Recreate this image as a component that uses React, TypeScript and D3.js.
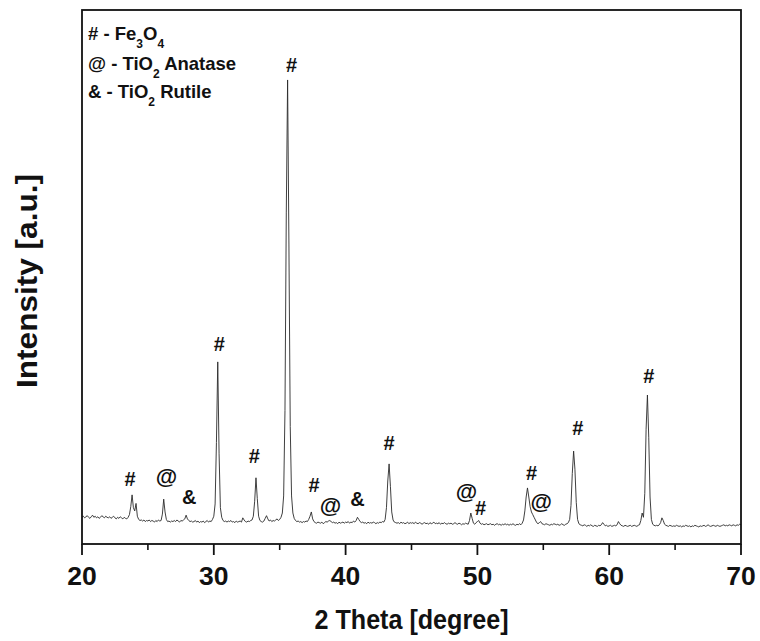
import React from "react";
import * as d3 from "d3";

// XRD pattern, 2θ from 20° to 70° in 0.1° steps
const thetaStart = 20;
const thetaStep = 0.1;
const intensity: number[] = [
  // 20
  50, 52, 49, 51, 53, 50, 48, 51, 54, 50,
  // 21
  52, 49, 51, 48, 50, 53, 51, 49, 52, 50,
  // 22
  49, 51, 48, 50, 52, 49, 47, 50, 48, 51,
  // 23
  49, 47, 50, 48, 47, 50, 55, 70, 92, 68,
  // 24
  62, 76, 52, 46, 44, 45, 43, 45, 42, 44,
  // 25
  43, 45, 42, 44, 43, 41, 44, 42, 45, 43,
  // 26
  44, 56, 84, 60, 46, 42, 43, 41, 43, 42,
  // 27
  44, 42, 45, 43, 41, 44, 43, 45, 47, 54,
  // 28
  47, 44, 42, 43, 41, 42, 44, 41, 43, 40,
  // 29
  42, 41, 43, 40, 42, 44, 41, 43, 42, 46,
  // 30
  52, 75, 190, 341, 170, 68, 50, 44, 42, 43,
  // 31
  41, 43, 42, 44, 41, 42, 40, 43, 41, 42,
  // 32
  43, 41, 49, 45, 42, 41, 43, 42, 44, 45,
  // 33
  52, 80, 124, 85, 52, 44, 42, 41, 43, 48,
  // 34
  53, 47, 43, 45, 42, 44, 43, 45, 47, 44,
  // 35
  46, 50, 58, 90, 250, 620, 869, 560, 220, 90,
  // 36
  58, 48, 44, 42, 43, 41, 42, 40, 42, 41,
  // 37
  43, 42, 46, 52, 60, 47, 42, 40, 39, 41,
  // 38
  40, 39, 41, 38, 40, 42, 41, 43, 44, 42,
  // 39
  40, 41, 39, 40, 38, 41, 39, 40, 41, 39,
  // 40
  41, 40, 42, 39, 41, 40, 43, 41, 44, 50,
  // 41
  46, 42, 40, 41, 39, 40, 38, 41, 39, 40,
  // 42
  39, 41, 40, 38, 40, 39, 41, 40, 42, 41,
  // 43
  46, 68, 118, 150, 108, 60, 45, 41, 40, 39,
  // 44
  40, 38, 41, 39, 40, 38, 39, 41, 38, 40,
  // 45
  39, 40, 38, 41, 39, 38, 40, 39, 37, 39,
  // 46
  40, 38, 39, 37, 40, 38, 39, 41, 38, 39,
  // 47
  38, 40, 37, 39, 38, 40, 38, 37, 39, 38,
  // 48
  39, 37, 38, 40, 38, 37, 39, 38, 36, 38,
  // 49
  37, 39, 38, 37, 44, 58, 48, 39, 37, 40,
  // 50
  42, 44, 39, 37, 38, 36, 37, 38, 36, 37,
  // 51
  38, 36, 37, 35, 37, 38, 36, 37, 35, 37,
  // 52
  36, 38, 36, 37, 35, 37, 36, 38, 36, 35,
  // 53
  37, 36, 38, 36, 39, 45, 62, 88, 105, 88,
  // 54
  70, 60, 55, 50, 45, 40, 38, 40, 42, 38,
  // 55
  37, 36, 38, 37, 36, 35, 37, 36, 38, 37,
  // 56
  36, 37, 35, 36, 38, 36, 35, 37, 38, 40,
  // 57
  46, 72, 132, 174, 140, 78, 46, 38, 36, 35,
  // 58
  34, 36, 35, 33, 35, 34, 36, 34, 33, 35,
  // 59
  34, 33, 35, 34, 36, 40, 37, 34, 35, 33,
  // 60
  34, 35, 33, 34, 35, 34, 36, 42, 38, 35,
  // 61
  34, 33, 35, 34, 33, 34, 35, 33, 34, 35,
  // 62
  34, 33, 35, 36, 44, 58, 50, 95, 215, 279,
  // 63
  200, 88, 46, 37, 35, 34, 35, 34, 36, 40,
  // 64
  49, 44, 37, 35, 34, 33, 35, 34, 33, 34,
  // 65
  33, 35, 34, 33, 34, 32, 34, 33, 35, 34,
  // 66
  33, 34, 32, 34, 33, 35, 34, 33, 32, 34,
  // 67
  33, 34, 35, 33, 34, 36, 34, 33, 34, 35,
  // 68
  34, 33, 35, 34, 33, 34, 35, 36, 34, 35,
  // 69
  34, 36, 35, 34, 36, 35, 34, 36, 35, 37,
  // 70
  36,
];

const xDomain = [20, 70];
const yDomain = [0, 1000];
const xMajorTicks = [20, 30, 40, 50, 60, 70];
const xMinorTicks = [25, 35, 45, 55, 65];

// phase markers above peaks: symbol, 2θ, intensity level of the marker centre
const markerSymbols = ["#", "@", "&", "#", "#", "#", "#", "@", "&", "#", "@", "#", "#", "@", "#", "#"];
const markerTheta = [23.65, 26.4, 28.13, 30.41, 33.07, 35.9, 37.6, 38.85, 40.9, 43.3, 49.18, 50.24, 54.1, 54.85, 57.61, 63.0];
const markerLevel = [122, 126, 88, 375, 165, 897, 110, 72, 84, 189, 99, 67, 133, 80, 217, 315];

// legend rows: symbol, formula pieces [text, subscript]
const legendSymbols = ["#", "@", "&"];
const legendNames: [string, string][][] = [
  [["Fe", "3"], ["O", "4"]],
  [["TiO", "2"], [" Anatase", ""]],
  [["TiO", "2"], [" Rutile", ""]],
];

const xLabel = "2 Theta [degree]";
const yLabel = "Intensity [a.u.]";

export default function App() {
  const W = 760;
  const H = 641;
  const m = { left: 82, right: 741, top: 10, bottom: 544 };
  const font = "'Liberation Sans', Arial, Helvetica, sans-serif";

  const x = d3.scaleLinear().domain(xDomain).range([m.left, m.right]);
  const y = d3.scaleLinear().domain(yDomain).range([m.bottom, m.top]);

  const pts: [number, number][] = intensity.map((v, i) => [thetaStart + i * thetaStep, v]);
  const linePath = d3
    .line<[number, number]>()
    .x((d) => x(d[0]))
    .y((d) => y(d[1]))(pts) as string;

  const subShift = 8;

  return (
    <svg
      width={W}
      height={H}
      viewBox={`0 0 ${W} ${H}`}
      style={{ position: "absolute", left: 0, top: 0, background: "#fff" }}
      fontFamily={font}
      fontWeight="bold"
    >
      <rect x={0} y={0} width={W} height={H} fill="#fff" />
      {/* data */}
      <path d={linePath} fill="none" stroke="#2a2a2a" strokeWidth={0.9} strokeLinejoin="round" />

      {/* frame */}
      <rect
        x={m.left}
        y={m.top}
        width={m.right - m.left}
        height={m.bottom - m.top}
        fill="none"
        stroke="#111"
        strokeWidth={1.8}
      />

      {/* ticks */}
      {xMajorTicks.map((t) => (
        <g key={"M" + t}>
          <line x1={x(t)} x2={x(t)} y1={m.bottom} y2={m.bottom + 11} stroke="#111" strokeWidth={1.8} />
          <text x={x(t)} y={585} textAnchor="middle" fontSize={26.5} fill="#111">
            {t}
          </text>
        </g>
      ))}
      {xMinorTicks.map((t) => (
        <line key={"m" + t} x1={x(t)} x2={x(t)} y1={m.bottom} y2={m.bottom + 6} stroke="#111" strokeWidth={1.6} />
      ))}

      {/* axis titles */}
      <text
        x={(m.left + m.right) / 2}
        y={629}
        textAnchor="middle"
        fontSize={28}
        textLength={194}
        lengthAdjust="spacingAndGlyphs"
        fill="#111"
      >
        {xLabel}
      </text>
      <text
        transform={`translate(37, ${(m.top + m.bottom) / 2 + 4}) rotate(-90)`}
        textAnchor="middle"
        fontSize={29}
        textLength={214}
        lengthAdjust="spacingAndGlyphs"
        fill="#111"
      >
        {yLabel}
      </text>

      {/* peak markers */}
      {markerSymbols.map((s, i) => (
        <text
          key={"p" + i}
          x={x(markerTheta[i])}
          y={y(markerLevel[i])}
          textAnchor="middle"
          dominantBaseline="central"
          fontSize={s === "@" ? 22 : 20}
          fill="#111"
        >
          {s}
        </text>
      ))}

      {/* legend */}
      {legendSymbols.map((s, i) => {
        const parts: React.ReactNode[] = [];
        let pendingUp = 0;
        legendNames[i].forEach(([main, sub], j) => {
          parts.push(
            <tspan key={"a" + j} dy={pendingUp ? -pendingUp : undefined}>
              {main}
            </tspan>
          );
          pendingUp = 0;
          if (sub) {
            parts.push(
              <tspan key={"b" + j} dy={subShift} fontSize={12}>
                {sub}
              </tspan>
            );
            pendingUp = subShift;
          }
        });
        return (
          <text key={"l" + i} x={88} y={[40, 70, 98][i]} fontSize={18.5} fill="#111">
            <tspan>{s + " - "}</tspan>
            {parts}
          </text>
        );
      })}
    </svg>
  );
}
